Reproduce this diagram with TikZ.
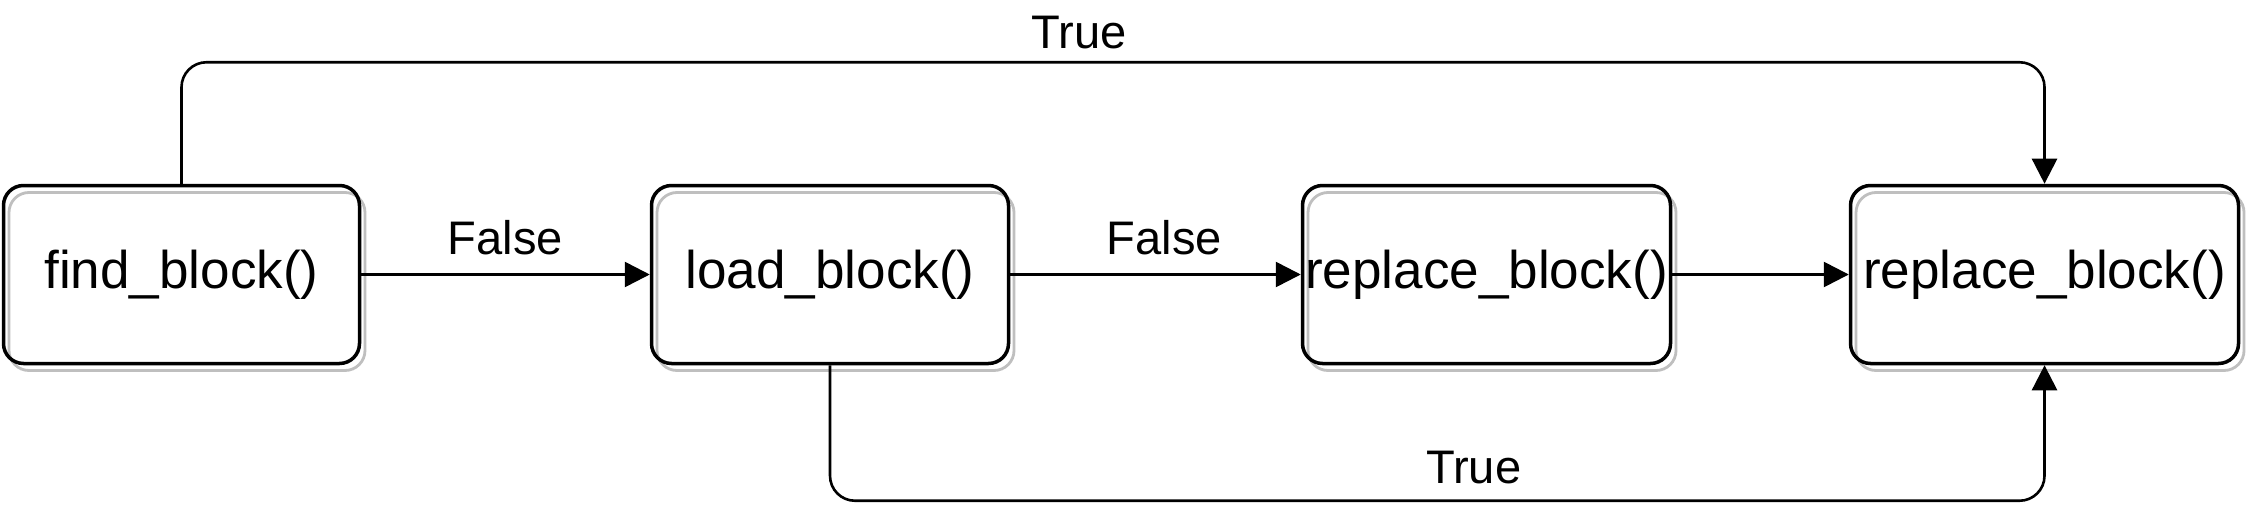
\documentclass[tikz,border=0pt]{standalone}
\usepackage{fontspec}
\setmainfont{Liberation Sans}
\usetikzlibrary{arrows.meta}

\tikzset{
  block/.style={draw=black, line width=0.035cm, rounded corners=0.2cm,
    minimum height=1.78cm, inner sep=0pt,
    font=\fontsize{15.1pt}{18pt}\selectfont,
    text height=1.02em, text depth=0.21em,
    preaction={draw=black!25, line width=0.028cm,
      transform canvas={shift={(0.055cm,-0.07cm)}}}},
  link/.style={line width=0.026cm, rounded corners=0.25cm,
    -{Triangle[length=0.25cm,width=0.25cm]}},
  lbl/.style={font=\fontsize{13.4pt}{16pt}\selectfont, anchor=base, inner sep=0pt}
}

\begin{document}
\begin{tikzpicture}
      \useasboundingbox (0,0) rectangle (22.47,5.25);

      \node[block, minimum width=3.56cm] (find)  at (1.815,2.505)  {find\_block()};
      \node[block, minimum width=3.57cm] (load)  at (8.30,2.505)   {load\_block()};
      \node[block, minimum width=3.68cm] (repa)  at (14.865,2.505) {replace\_block()};
      \node[block, minimum width=3.88cm] (repb)  at (20.445,2.505) {replace\_block()};

      \draw[link] (find) -- node[lbl, pos=0.5, yshift=0.2cm] {False} (load);
      \draw[link] (load) -- node[lbl, pos=0.53, yshift=0.2cm] {False} (repa);
      \draw[link] (repa) -- (repb);
      \draw[link] (find.north) -- ++(0,1.215)
            -| node[lbl, pos=0.241, yshift=0.135cm] {True} (repb.north);
      \draw[link] (load.south) -- ++(0,-1.355)
            -| node[lbl, pos=0.265, yshift=0.17cm] {True} (repb.south);

    \end{tikzpicture}
\end{document}
